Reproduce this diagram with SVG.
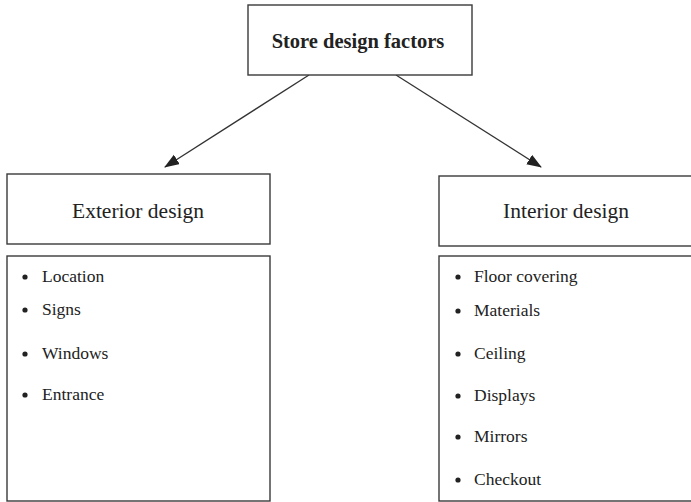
<svg xmlns="http://www.w3.org/2000/svg" width="691" height="502" viewBox="0 0 691 502">
<defs>
<style>
.box{fill:#fff;stroke:#3a3a3a;stroke-width:1.4}
.t{font-family:"Liberation Serif",serif;fill:#222}
.h{font-size:21.5px;text-anchor:middle}
.b{font-weight:bold;font-size:20.5px;text-anchor:middle}
.i{font-size:17.5px}
.dot{fill:#222}
.conn{stroke:#333;stroke-width:1.3;fill:none}
</style>
<marker id="ah" markerWidth="15" markerHeight="12" refX="14" refY="5.5" orient="auto" markerUnits="userSpaceOnUse">
<path d="M0,0 L15,5.5 L0,11 Z" fill="#222"/>
</marker>
</defs>
<rect width="691" height="502" fill="#fff"/>
<g id="connectors">
<line class="conn" x1="309" y1="75" x2="165" y2="167" marker-end="url(#ah)"/>
<line class="conn" x1="396" y1="75" x2="541" y2="167" marker-end="url(#ah)"/>
</g>
<g id="store">
<rect class="box" x="248" y="5" width="224" height="70"/>
<text class="t b" x="358" y="48">Store design factors</text>
</g>
<g id="exterior">
<rect class="box" x="7" y="174" width="263" height="70"/>
<text class="t h" x="138" y="218">Exterior design</text>
</g>
<g id="interior">
<rect class="box" x="439" y="176" width="263" height="70"/>
<text class="t h" x="566" y="218">Interior design</text>
</g>
<g id="exterior-list">
<rect class="box" x="7" y="256" width="263" height="245"/>
<g class="dot">
<circle cx="25" cy="277" r="2.6"/>
<circle cx="25" cy="310" r="2.6"/>
<circle cx="25" cy="354" r="2.6"/>
<circle cx="25" cy="395" r="2.6"/>
</g>
<text class="t i" x="42" y="282">Location</text>
<text class="t i" x="42" y="315">Signs</text>
<text class="t i" x="42" y="359">Windows</text>
<text class="t i" x="42" y="400">Entrance</text>
</g>
<g id="interior-list">
<rect class="box" x="439" y="256" width="263" height="245"/>
<g class="dot">
<circle cx="458" cy="277" r="2.6"/>
<circle cx="458" cy="311" r="2.6"/>
<circle cx="458" cy="354" r="2.6"/>
<circle cx="458" cy="396" r="2.6"/>
<circle cx="458" cy="437" r="2.6"/>
<circle cx="458" cy="480" r="2.6"/>
</g>
<text class="t i" x="474" y="282">Floor covering</text>
<text class="t i" x="474" y="316">Materials</text>
<text class="t i" x="474" y="359">Ceiling</text>
<text class="t i" x="474" y="401">Displays</text>
<text class="t i" x="474" y="442">Mirrors</text>
<text class="t i" x="474" y="485">Checkout</text>
</g>
</svg>
